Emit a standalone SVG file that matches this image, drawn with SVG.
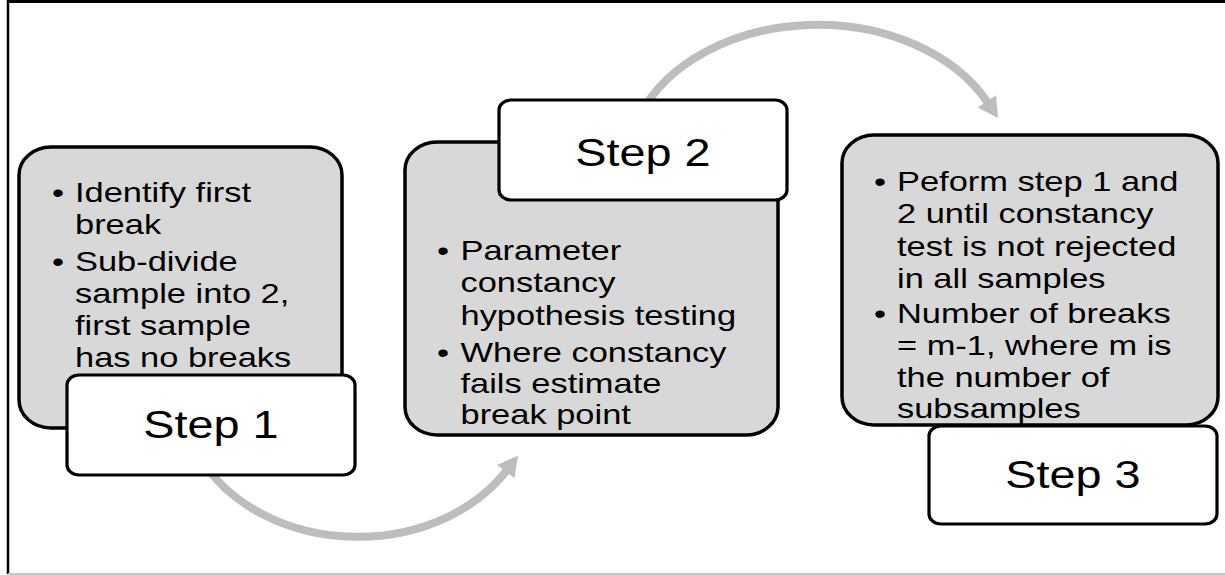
<svg xmlns="http://www.w3.org/2000/svg" width="1225" height="575" viewBox="0 0 1225 575">
  <style>
    .panel { fill: #d8d8d8; stroke: #000; stroke-width: 3.5; }
    .tab { fill: #fff; stroke: #000; stroke-width: 3.2; }
    .body { font-family: "Liberation Sans", Arial, sans-serif; font-size: 28px; fill: #000; }
    .title { font-family: "Liberation Sans", Arial, sans-serif; font-size: 39px; fill: #000; text-anchor: middle; }
    .dot { text-anchor: middle; }
    .flow { fill: none; stroke: #bdbdbd; stroke-width: 8; marker-end: url(#head); }
  </style>
  <defs>
    <marker id="head" markerUnits="userSpaceOnUse" markerWidth="24" markerHeight="24" viewBox="-2 -12 24 24" refX="2" refY="0" orient="auto">
      <path d="M0,-11 L20,0 L0,11 z" fill="#bdbdbd"/>
    </marker>
  </defs>

  <!-- frame -->
  <g id="frame">
    <line x1="8" y1="1.5" x2="1225" y2="1.5" stroke="#000" stroke-width="3"/>
    <line x1="8" y1="0" x2="8" y2="574" stroke="#000" stroke-width="2.5"/>
    <line x1="8" y1="574" x2="1225" y2="574" stroke="#c8c8c8" stroke-width="2"/>
  </g>

  <!-- connectors (drawn first so the step tabs cover their tails) -->
  <g id="connectors">
    <path id="c1" class="flow" d="M205,465 A175,140 0 0 0 507,470"/>
    <path id="c2" class="flow" d="M640,115 A190,140 0 0 1 988,103"/>
  </g>

  <!-- step 1 -->
  <g id="step1">
    <rect class="panel" x="19" y="147" width="323" height="281" rx="32" ry="28"/>
    <text class="body dot" transform="translate(58,0) scale(1.23,1)"><tspan x="0" y="202">•</tspan><tspan x="0" y="271">•</tspan></text>
    <text class="body" transform="translate(75,0) scale(1.23,1)">
      <tspan x="0" y="202">Identify first</tspan>
      <tspan x="0" y="234">break</tspan>
      <tspan x="0" y="271">Sub-divide</tspan>
      <tspan x="0" y="303">sample into 2,</tspan>
      <tspan x="0" y="335">first sample</tspan>
      <tspan x="0" y="367">has no breaks</tspan>
    </text>
    <rect class="tab" x="67" y="375" width="288" height="100" rx="12" ry="10"/>
    <text class="title" transform="translate(211,438) scale(1.2,1)" x="0" y="0">Step 1</text>
  </g>

  <!-- step 2 -->
  <g id="step2">
    <rect class="panel" x="405" y="142" width="373" height="293" rx="32" ry="28"/>
    <text class="body dot" transform="translate(443,0) scale(1.23,1)"><tspan x="0" y="260">•</tspan><tspan x="0" y="362">•</tspan></text>
    <text class="body" transform="translate(460.5,0) scale(1.23,1)">
      <tspan x="0" y="260">Parameter</tspan>
      <tspan x="0" y="292">constancy</tspan>
      <tspan x="0" y="325">hypothesis testing</tspan>
      <tspan x="0" y="362">Where constancy</tspan>
      <tspan x="0" y="393">fails estimate</tspan>
      <tspan x="0" y="424">break point</tspan>
    </text>
    <rect class="tab" x="499" y="100" width="288" height="100" rx="12" ry="10"/>
    <text class="title" transform="translate(643,166) scale(1.2,1)" x="0" y="0">Step 2</text>
  </g>

  <!-- step 3 -->
  <g id="step3">
    <rect class="panel" x="842" y="135" width="376" height="290" rx="32" ry="28"/>
    <text class="body dot" transform="translate(880,0) scale(1.23,1)"><tspan x="0" y="191">•</tspan><tspan x="0" y="323">•</tspan></text>
    <text class="body" transform="translate(897,0) scale(1.23,1)">
      <tspan x="0" y="191">Peform step 1 and</tspan>
      <tspan x="0" y="223">2 until constancy</tspan>
      <tspan x="0" y="256">test is not rejected</tspan>
      <tspan x="0" y="288">in all samples</tspan>
      <tspan x="0" y="323">Number of breaks</tspan>
      <tspan x="0" y="355">= m-1, where m is</tspan>
      <tspan x="0" y="387">the number of</tspan>
      <tspan x="0" y="418">subsamples</tspan>
    </text>
    <rect class="tab" x="929" y="426" width="288" height="98" rx="12" ry="10"/>
    <text class="title" transform="translate(1073,488) scale(1.2,1)" x="0" y="0">Step 3</text>
  </g>
</svg>
